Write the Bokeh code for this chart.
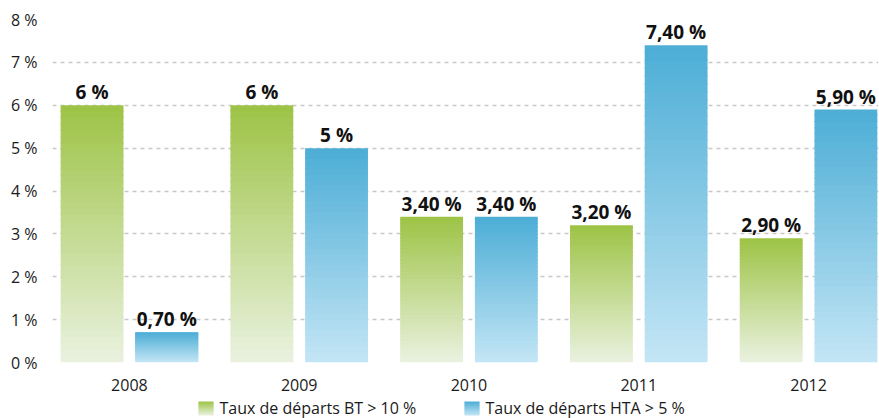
from bokeh.plotting import figure
from bokeh.layouts import column
from bokeh.models import ColumnDataSource, Range1d, FixedTicker, LabelSet
from bokeh.core.properties import value
from bokeh.embed import file_html
from bokeh.resources import INLINE

years = ["2008", "2009", "2010", "2011", "2012"]
bt_values = [6.0, 6.0, 3.4, 3.2, 2.9]
hta_values = [0.7, 5.0, 3.4, 7.4, 5.9]
bt_labels = ["6 %", "6 %", "3,40 %", "3,20 %", "2,90 %"]
hta_labels = ["0,70 %", "5 %", "3,40 %", "7,40 %", "5,90 %"]
series_names = ["Taux de départs BT > 10 %", "Taux de départs HTA > 5 %"]
y_ticks = [0, 1, 2, 3, 4, 5, 6, 7, 8]

FONT = "Open Sans"
GREEN_TOP, GREEN_BOT = (0x9d, 0xc3, 0x45), (0xea, 0xf2, 0xe0)
BLUE_TOP, BLUE_BOT = (0x4c, 0xad, 0xd6), (0xc4, 0xe6, 0xf5)
NSLICE = 40
BAR_W = 0.37
OFF = 0.22
OVERLAP = 0.035


def mix(c1, c2, t):
    return "#%02x%02x%02x" % tuple(int(round(a + (b - a) * t)) for a, b in zip(c1, c2))


def gradient_slices(lefts, rights, bottoms, tops, top_col, bot_col, n, overlap):
    l, r, b, t, c = [], [], [], [], []
    for x0, x1, y0, y1 in zip(lefts, rights, bottoms, tops):
        h = y1 - y0
        for k in range(n):
            l.append(x0)
            r.append(x1)
            b.append(y0 + h * k / n)
            t.append(min(y0 + h * (k + 1) / n + overlap, y1))
            c.append(mix(bot_col, top_col, (k + 0.5) / n))
    return ColumnDataSource(dict(left=l, right=r, bottom=b, top=t, color=c))


# ---------------- main chart ----------------
p = figure(width=879, height=394, output_backend="svg", toolbar_location=None,
           x_range=Range1d(-0.453, 4.412), y_range=Range1d(0, 8),
           min_border_left=52, min_border_right=1, min_border_top=19, min_border_bottom=32)
p.outline_line_color = None

n = len(years)
src_bt = gradient_slices([i - OFF - BAR_W / 2 for i in range(n)],
                         [i - OFF + BAR_W / 2 for i in range(n)],
                         [0] * n, bt_values, GREEN_TOP, GREEN_BOT, NSLICE, OVERLAP)
src_hta = gradient_slices([i + OFF - BAR_W / 2 for i in range(n)],
                          [i + OFF + BAR_W / 2 for i in range(n)],
                          [0] * n, hta_values, BLUE_TOP, BLUE_BOT, NSLICE, OVERLAP)
p.quad(left="left", right="right", bottom="bottom", top="top", source=src_bt,
       fill_color="color", line_color=None)
p.quad(left="left", right="right", bottom="bottom", top="top", source=src_hta,
       fill_color="color", line_color=None)

lab_src = ColumnDataSource(dict(
    x=[i - OFF for i in range(n)] + [i + OFF for i in range(n)],
    y=bt_values + hta_values,
    text=bt_labels + hta_labels))
p.add_layout(LabelSet(x="x", y="y", text="text", source=lab_src, y_offset=6,
                      text_align="center", text_baseline="alphabetic",
                      text_font=value(FONT), text_font_style="bold", text_font_size="19px",
                      text_color="#111111"))

p.xaxis.ticker = FixedTicker(ticks=list(range(n)))
p.xaxis.major_label_overrides = {i: y for i, y in enumerate(years)}
p.xaxis.axis_line_color = None
p.xaxis.major_tick_line_color = None
p.xaxis.minor_tick_line_color = None
p.xaxis.major_label_text_font = FONT
p.xaxis.major_label_text_font_size = "16px"
p.xaxis.major_label_text_color = "#1a1a1a"
p.xaxis.major_label_standoff = 10

p.yaxis.ticker = FixedTicker(ticks=y_ticks)
p.yaxis.major_label_overrides = {t: "%d %%" % t for t in y_ticks}
p.yaxis.axis_line_color = None
p.yaxis.major_tick_line_color = None
p.yaxis.minor_tick_line_color = None
p.yaxis.major_label_text_font = FONT
p.yaxis.major_label_text_font_size = "16px"
p.yaxis.major_label_text_color = "#1a1a1a"
p.yaxis.major_label_standoff = 9

p.xgrid.grid_line_color = None
p.ygrid.grid_line_color = "#c8c8c8"
p.ygrid.grid_line_dash = "4 4"
p.ygrid.grid_line_width = 1.5

# ---------------- legend strip (x in page pixels, frame aligned with chart) ----------------
lg = figure(width=879, height=24, output_backend="svg", toolbar_location=None,
            x_axis_location=None, y_axis_location=None,
            x_range=Range1d(52, 878), y_range=Range1d(0, 24),
            min_border_left=52, min_border_right=1, min_border_top=0, min_border_bottom=0)
lg.outline_line_color = None
lg.grid.grid_line_color = None

sw_left = [198, 464]
sw_width = 15
sw_bottom, sw_top = 3, 17
lg.quad(left="left", right="right", bottom="bottom", top="top", fill_color="color",
        line_color=None,
        source=gradient_slices([sw_left[0]], [sw_left[0] + sw_width], [sw_bottom], [sw_top],
                               GREEN_TOP, GREEN_BOT, 14, 0.6))
lg.quad(left="left", right="right", bottom="bottom", top="top", fill_color="color",
        line_color=None,
        source=gradient_slices([sw_left[1]], [sw_left[1] + sw_width], [sw_bottom], [sw_top],
                               BLUE_TOP, BLUE_BOT, 14, 0.6))
lg.text(x=[x + sw_width + 6 for x in sw_left], y=[11, 11], text=series_names,
        text_font=value(FONT), text_font_size="16px", text_color="#1a1a1a",
        text_baseline="middle", text_align="left")

layout = column(p, lg, spacing=0)
open("out.html", "w").write(file_html(layout, INLINE))
